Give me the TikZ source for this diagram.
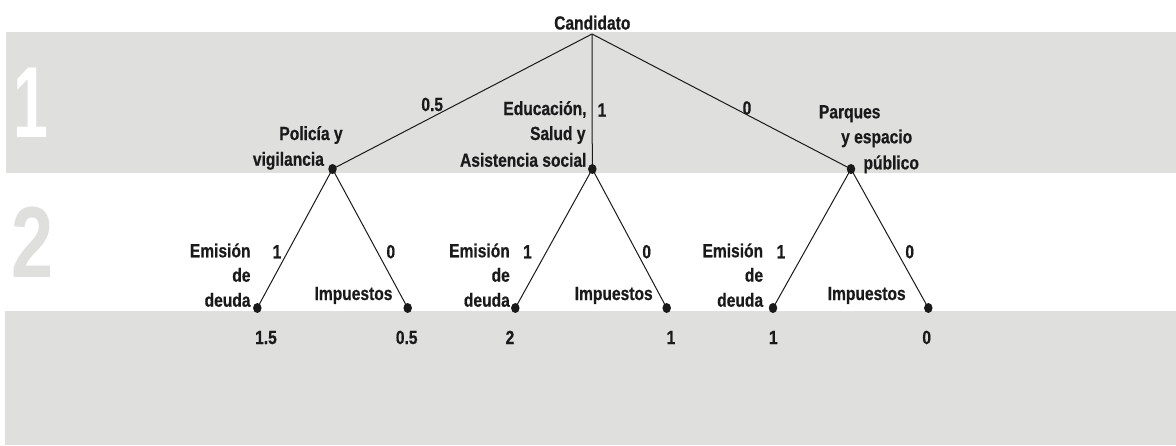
\documentclass[tikz,border=0pt]{standalone}
\usepackage{fontspec}
\usetikzlibrary{shapes.geometric}
\newfontfamily\lblfont[FakeStretch=0.82,FakeBold=0.6]{Liberation Sans Bold}
\newfontfamily\bigtwofont[FakeStretch=0.75]{Liberation Sans Bold}
\newfontfamily\bigonefont[FakeStretch=0.62]{Liberation Sans Bold}
\definecolor{band}{RGB}{223,223,221}
\definecolor{ink}{RGB}{26,26,26}
\tikzset{
  lbl/.style={font=\lblfont\fontsize{19}{23}\selectfont, text=ink, inner sep=0pt, anchor=base},
  lble/.style={lbl, anchor=base east},
  dot/.style={ellipse, fill=ink, draw=none, inner sep=0pt, minimum width=8.5pt, minimum height=10pt},
  edge/.style={draw=ink, line width=1pt}
}
\begin{document}
\begin{tikzpicture}[x=1pt,y=-1pt]
\useasboundingbox (0,0) rectangle (1176,445);
% bands
\fill[band] (6,32) rectangle (1176,172.5);
\fill[band] (5,311) rectangle (1176,445);
\node[font=\bigonefont\fontsize{101}{101}\selectfont, inner sep=0pt, anchor=base, text=white] (one) at (31,137) {1};
\node[font=\bigtwofont\fontsize{101}{101}\selectfont, inner sep=0pt, anchor=base, text=band] (two) at (33,277) {2};
% tree nodes
\coordinate (root) at (592,34);
\node[dot] (pol) at (332.5,169) {};
\node[dot] (edu) at (592.3,169) {};
\node[dot] (par) at (851,169) {};
\node[dot] (l1) at (257.3,308) {};
\node[dot] (l2) at (407.7,308) {};
\node[dot] (l3) at (515.3,308) {};
\node[dot] (l4) at (666.7,308) {};
\node[dot] (l5) at (773,308) {};
\node[dot] (l6) at (928.3,308) {};
% connectors
\draw[edge] (root) -- (pol.center);
\draw[edge] (root) -- (edu.center);
\draw[edge] (root) -- (par.center);
\draw[edge] (pol.center) -- (l1.center);
\draw[edge] (pol.center) -- (l2.center);
\draw[edge] (edu.center) -- (l3.center);
\draw[edge] (edu.center) -- (l4.center);
\draw[edge] (par.center) -- (l5.center);
\draw[edge] (par.center) -- (l6.center);
% top labels
\node[lbl] (cand) at (592.3,29.5) {Candidato};
\node[lbl] (w05) at (432.2,111) {0.5};
\node[lbl] (w1) at (602,116.5) {1};
\node[lbl] (w0) at (747,114.5) {0};
\node[lbl] (pol1) at (311,140) {Policía y};
\node[lbl] (pol2) at (288.4,165.7) {vigilancia};
\node[lble] (edu1) at (586.7,115) {Educación,};
\node[lble] (edu2) at (585.7,140) {Salud y};
\node[lble] (edu3) at (586.7,166.7) {Asistencia social};
\node[lbl] (par1) at (849.7,118.3) {Parques};
\node[lbl] (par2) at (876.7,143.3) {y espacio};
\node[lbl] (par3) at (891.2,169.3) {público};
% group 1
\node[lble] (ea1) at (250.7,257.3) {Emisión};
\node[lble] (eb1) at (250.7,281.7) {de};
\node[lble] (ec1) at (250.7,306.7) {deuda};
\node[lbl] (ua1) at (277,258.3) {1};
\node[lbl] (za1) at (390.8,258.3) {0};
\node[lbl] (im1) at (353.5,300) {Impuestos};
\node[lbl] (v1) at (266,344) {1.5};
\node[lbl] (v2) at (406.7,344) {0.5};
% group 2
\node[lble] (ea2) at (510,257.3) {Emisión};
\node[lble] (eb2) at (510,281.7) {de};
\node[lble] (ec2) at (510,306.7) {deuda};
\node[lbl] (ua2) at (527.5,258.3) {1};
\node[lbl] (za2) at (646.7,258.3) {0};
\node[lbl] (im2) at (613.7,300) {Impuestos};
\node[lbl] (v3) at (510,344) {2};
\node[lbl] (v4) at (671,344) {1};
% group 3
\node[lble] (ea3) at (763.3,257.3) {Emisión};
\node[lble] (eb3) at (763.3,281.7) {de};
\node[lble] (ec3) at (763.3,306.7) {deuda};
\node[lbl] (ua3) at (781,258.3) {1};
\node[lbl] (za3) at (909.7,258.3) {0};
\node[lbl] (im3) at (866.7,300) {Impuestos};
\node[lbl] (v5) at (773.3,344) {1};
\node[lbl] (v6) at (926.7,344) {0};
\end{tikzpicture}
\end{document}
